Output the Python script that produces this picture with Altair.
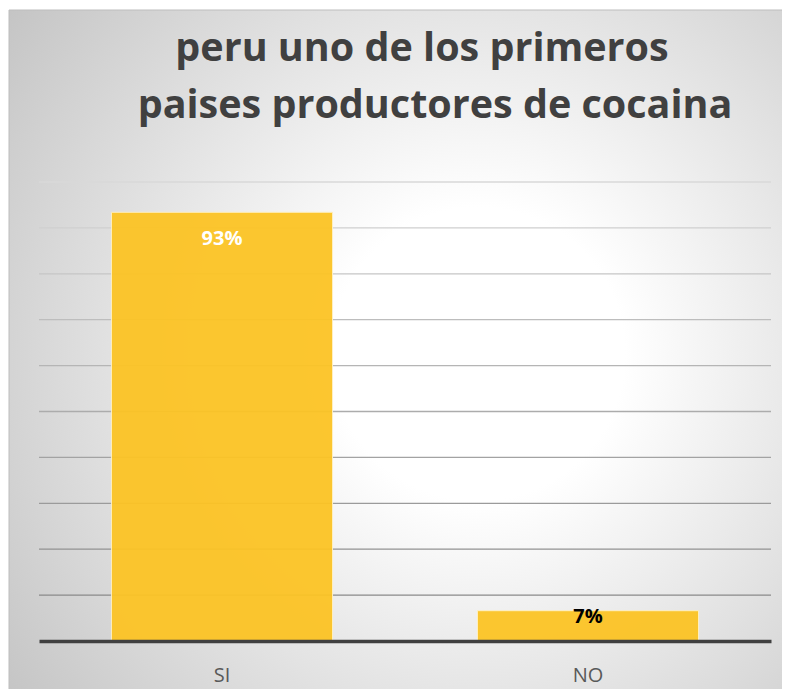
import altair as alt
import pandas as pd

# ---- data ----
categories = ["SI", "NO"]
shares = [0.934, 0.066]
labels = ["93%", "7%"]
grid_values = [0.1, 0.2, 0.3, 0.4, 0.5, 0.6, 0.7, 0.8, 0.9, 1.0]
title_lines = ["peru uno de los primeros", "paises productores de cocaina"]

df = pd.DataFrame({"cat": categories, "share": shares, "label": labels})
grid = pd.DataFrame({"v": grid_values})

W, H = 732, 459
FONT = "Open Sans"

x_scale = alt.Scale(domain=categories, paddingInner=0.396, paddingOuter=0.198)
y_scale = alt.Scale(domain=[0, 1], nice=False, zero=True)

x_axis = alt.Axis(
    title=None, ticks=False, domain=True, domainColor="#404040", domainWidth=3.5,
    labelFont=FONT, labelFontSize=20, labelColor="#595959", labelAngle=0,
    labelBaseline="alphabetic", labelPadding=40, grid=False, zindex=1,
)
x_enc = alt.X("cat:N", scale=x_scale, sort=categories, axis=x_axis)
y_enc = alt.Y("share:Q", scale=y_scale, axis=None)

# background panel with radial gradient (right/bottom edges run past the page edge)
bg = alt.Chart(pd.DataFrame({"a": [0]})).mark_rect(
    fill=alt.RadialGradient(
        gradient="radial",
        stops=[
            alt.GradientStop(color="#ffffff", offset=0),
            alt.GradientStop(color="#ffffff", offset=0.25),
            alt.GradientStop(color="#c4c4c4", offset=1),
        ],
        x1=0.6, y1=0.5, r1=0, x2=0.6, y2=0.5, r2=0.75,
    ),
    stroke="#bdbdbd", strokeWidth=1,
).encode(x=alt.value(-30), x2=alt.value(752), y=alt.value(-172), y2=alt.value(516))

gridlines = alt.Chart(grid).mark_rule(strokeWidth=1.3).encode(
    y=alt.Y("v:Q", scale=y_scale, axis=None),
    color=alt.Color("v:Q", scale=alt.Scale(domain=[0.1, 1.0], range=["#8a8a8a", "#d8d8d8"]), legend=None),
)

bars = alt.Chart(df).mark_bar(
    color="#FCC425", opacity=0.95, stroke="#fff0c0", strokeWidth=1
).encode(x=x_enc, y=y_enc)

lab_hi = alt.Chart(df).transform_filter(alt.datum.share > 0.5).mark_text(
    font=FONT, fontWeight="bold", fontSize=20, color="#ffffff", baseline="middle", dy=27
).encode(x=x_enc, y=y_enc, text="label:N")

lab_lo = alt.Chart(df).transform_filter(alt.datum.share <= 0.5).mark_text(
    font=FONT, fontWeight="bold", fontSize=20, color="#000000", baseline="middle", dy=6
).encode(x=x_enc, y=y_enc, text="label:N")

t1 = alt.Chart(pd.DataFrame({"t": [title_lines[0]]})).mark_text(
    font=FONT, fontSize=39.5, fontWeight="bold", color="#404040", baseline="alphabetic", align="center"
).encode(text="t:N", x=alt.value(383), y=alt.value(-121))

t2 = alt.Chart(pd.DataFrame({"t": [title_lines[1]]})).mark_text(
    font=FONT, fontSize=39.5, fontWeight="bold", color="#404040", baseline="alphabetic", align="center"
).encode(text="t:N", x=alt.value(396), y=alt.value(-64))

chart = alt.layer(bg, gridlines, bars, lab_hi, lab_lo, t1, t2).properties(
    width=W, height=H,
    autosize=alt.AutoSizeParams(type="none"),
    padding={"left": 31, "top": 174, "right": 11, "bottom": 48},
).configure_view(stroke=None)

chart.save("out.html", embed_options={"renderer": "svg", "actions": False})
